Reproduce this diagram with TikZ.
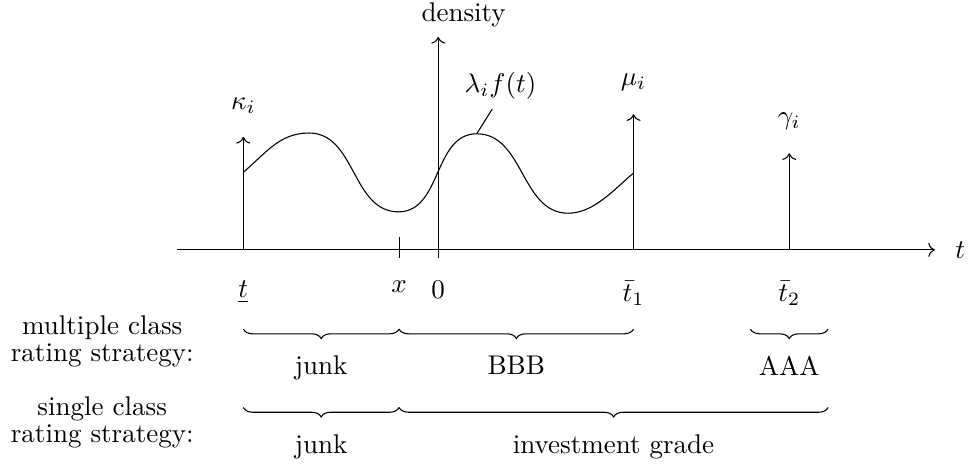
\documentclass[tikz,border=0pt]{standalone}
\usepackage{amsmath,amssymb}
\usepackage{tikz}
\usetikzlibrary{arrows.meta,decorations.pathreplacing}

\begin{document}
\begin{tikzpicture}[>=To,
    brc/.style={decorate, decoration={brace, mirror, amplitude=3.5pt}},
    brclab/.style={midway, below=6.5pt},
    strat/.style={align=center}]
  \useasboundingbox (-5.70,-2.80) rectangle (6.89,3.25);
  \def\tlo{-2.535}
  \def\xx{-0.51}
  \def\tone{2.54}
  \def\ttwo{4.565}
  \def\ttwoh{0.505}
  \def\ya{-1.03}
  \def\yb{-2.05}
  \coordinate (TL) at (\tlo,0);
  \coordinate (X) at (\xx,0);
  \coordinate (O) at (0,0);
  \coordinate (T1) at (\tone,0);
  \coordinate (T2) at (\ttwo,0);
  % axes
  \draw[->] (-3.40,0) -- (6.46,0) node[right=4pt] (tlab) {$t$};
  \draw[->] (0,-0.10) -- (0,2.77);
  \node[anchor=base] (dens) at (0.33,2.965) {density};
  \draw (\xx,0.17) -- (\xx,-0.10);
  % point masses
  \draw[->] (TL) -- ++(0,1.47) node[above=5pt] (kap) {$\kappa_i$};
  \draw[->] (T1) -- ++(0,1.765) node[above=5pt] (mu) {$\mu_i$};
  \draw[->] (T2) -- ++(0,1.257) node[above=5pt] (gam) {$\gamma_i$};
  % continuous part
  \draw (\tlo,1.01) to[out=40,in=180] (-1.68,1.52) to[out=0,in=180] (-0.517,0.495)
    to[out=0,in=180] (0.5,1.51) coordinate (pk) to[out=0,in=180] (1.69,0.477)
    to[out=0,in=220,looseness=0.85] (\tone,1.0);
  \node (lam) at (0.81,2.13) {$\lambda_i f(t)$};
  \draw (pk) -- (lam.250);
  % ticks
  \node[below=8pt] (tlolab) at (TL) {$\underline{t}$};
  \node[below=8pt] (xlab) at (X) {$x$};
  \node[below=8pt] (olab) at (O) {$0$};
  \node[below=8pt] (t1lab) at (T1) {$\bar{t}_1$};
  \node[below=8pt] (t2lab) at (T2) {$\bar{t}_2$};
  % strategies
  \node[strat] (multi) at (-4.37,-1.185) {multiple class\\[-2pt]rating strategy:};
  \node[strat] (single) at (-4.37,-2.24) {single class\\[-2pt]rating strategy:};
  \draw[brc] (\tlo,\ya) -- (\xx,\ya) node[brclab] (junka) {junk};
  \draw[brc] (\xx,\ya) -- (\tone,\ya) node[brclab] (bbb) {BBB};
  \draw[brc] ({\ttwo-\ttwoh},\ya) -- ({\ttwo+\ttwoh},\ya) node[brclab] (aaa) {AAA};
  \draw[brc] (\tlo,\yb) -- (\xx,\yb) node[brclab] (junkb) {junk};
  \draw[brc] (\xx,\yb) -- ({\ttwo+\ttwoh},\yb) node[brclab] (invg) {investment grade};
\end{tikzpicture}
\end{document}
